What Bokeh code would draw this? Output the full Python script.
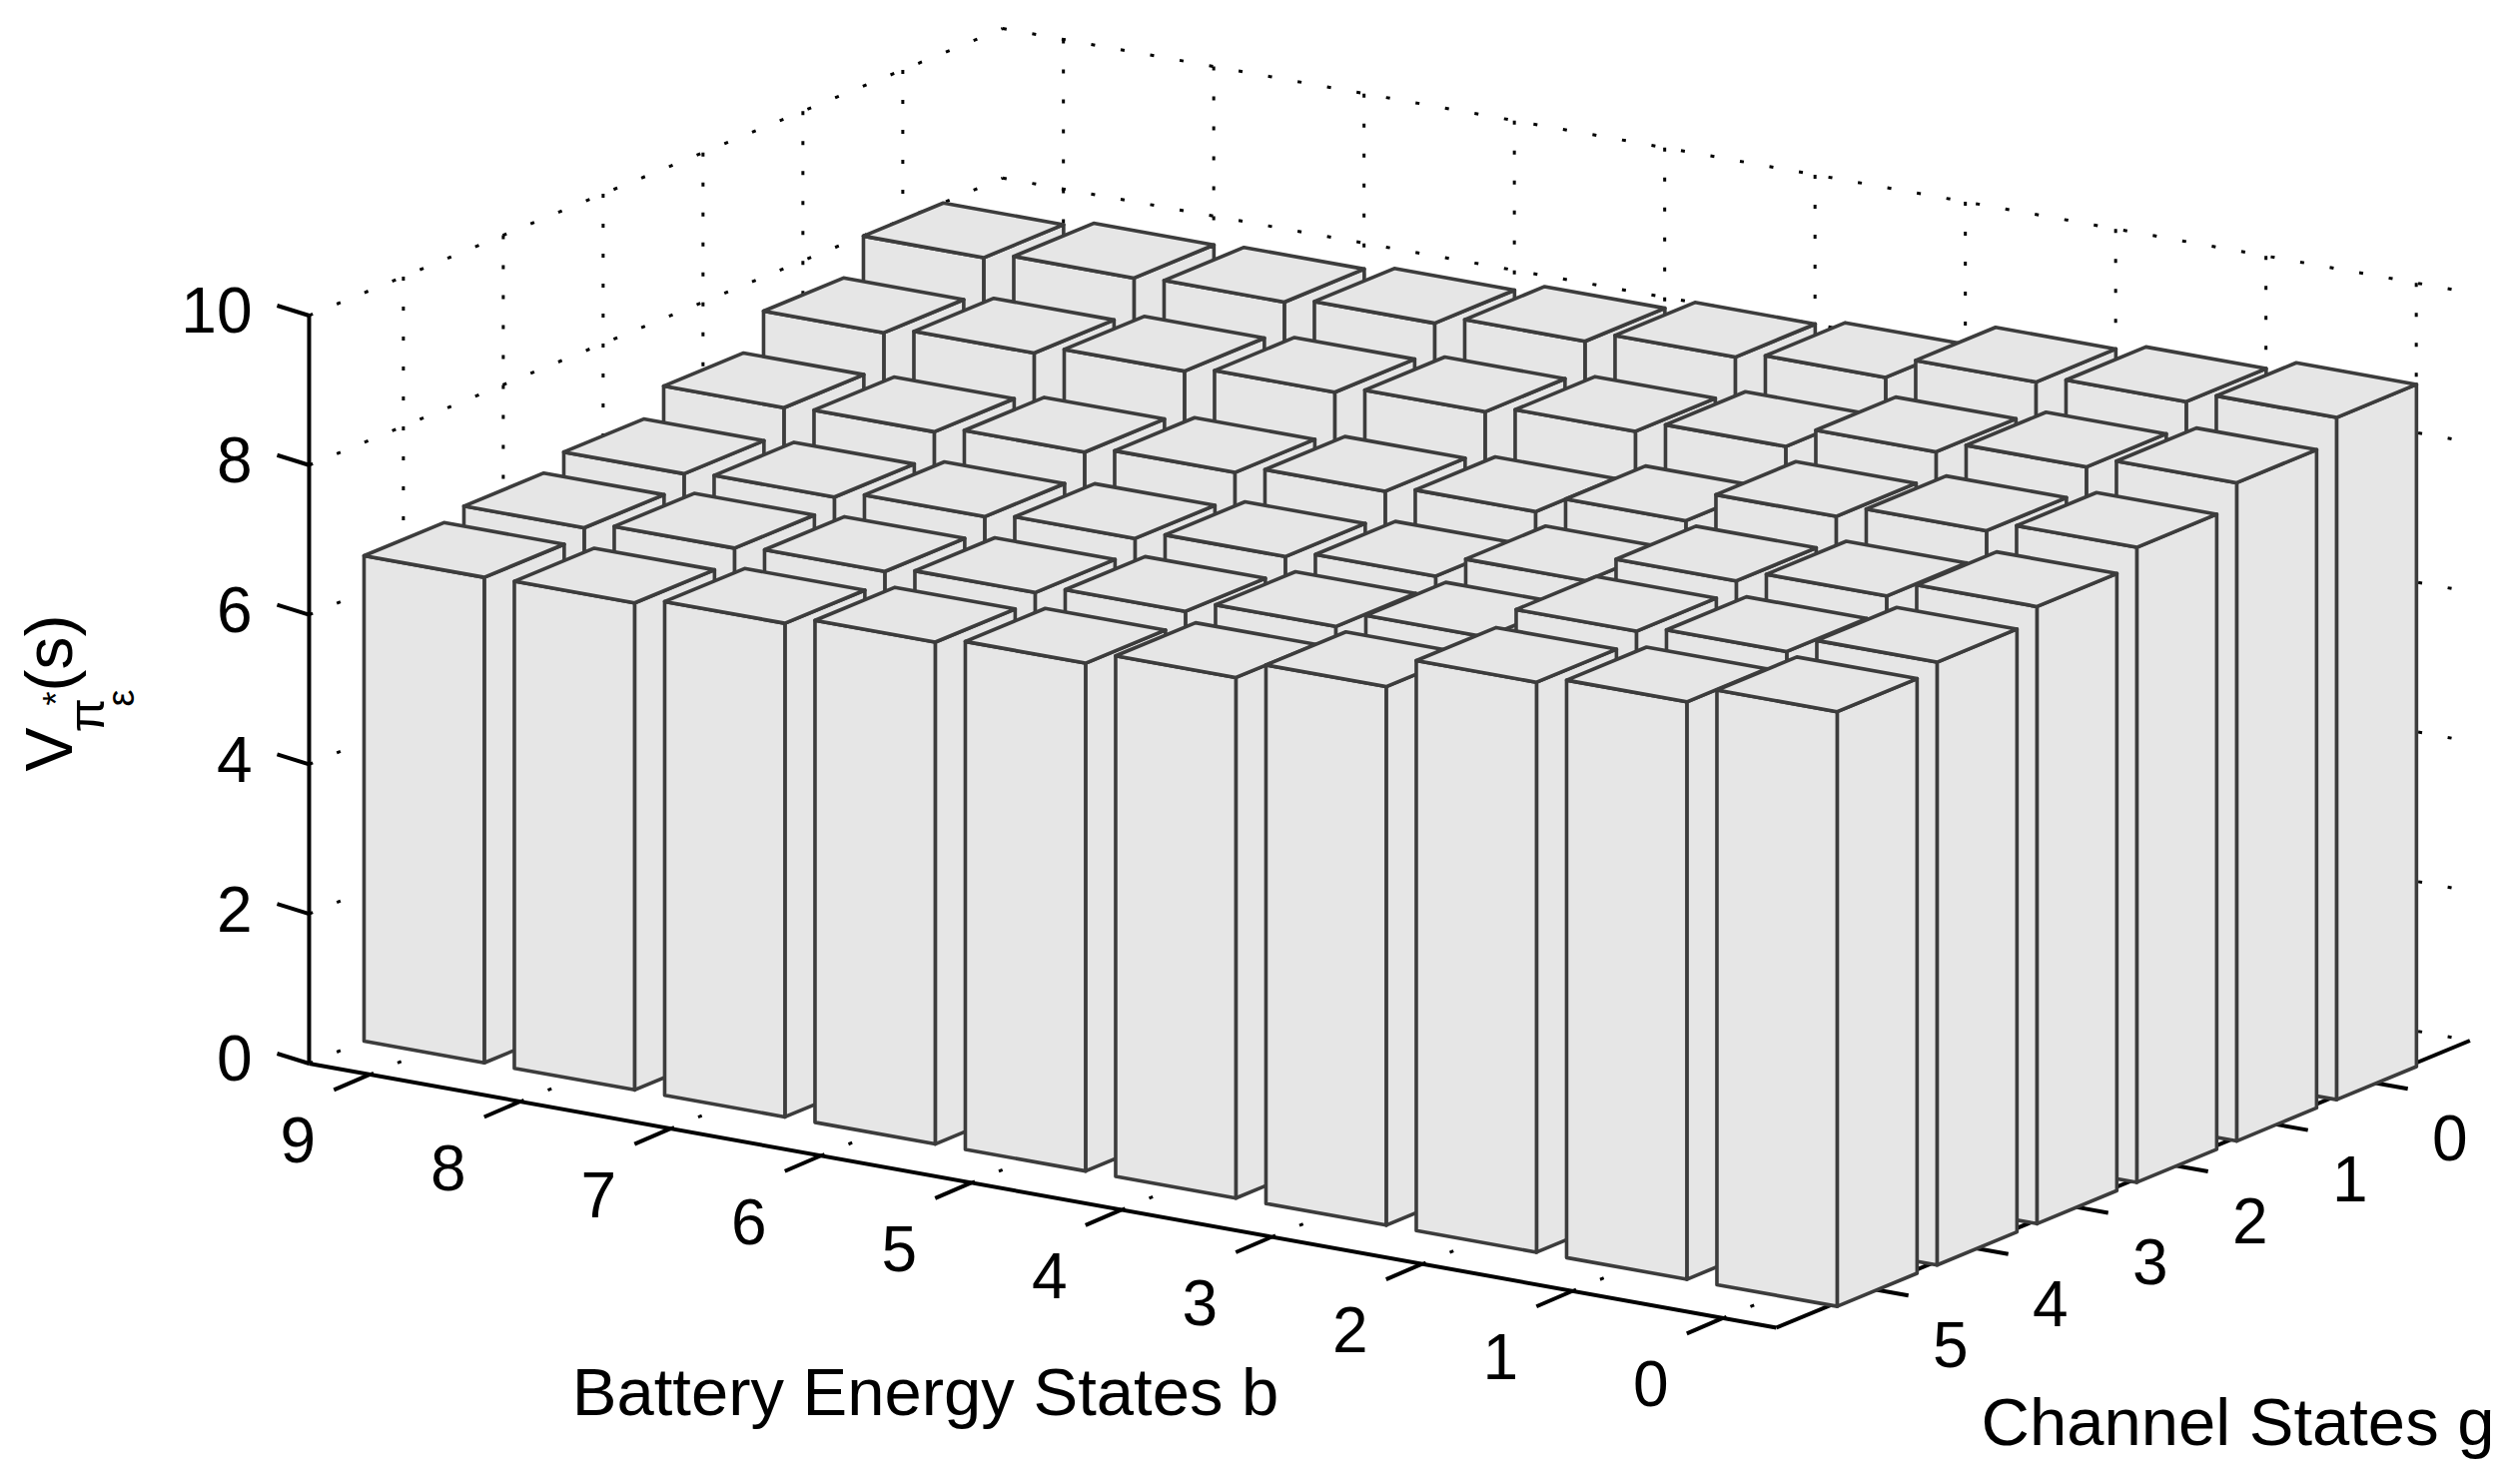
from bokeh.plotting import figure
from bokeh.embed import file_html
from bokeh.resources import INLINE
from bokeh.models import Range1d
from bokeh.core.properties import value
import math

# ---------- data ----------
battery_states = [0, 1, 2, 3, 4, 5, 6, 7, 8, 9]
channel_states = [0, 1, 2, 3, 4, 5]
z_ticks = [0, 2, 4, 6, 8, 10]
v_g0 = [9.12, 8.97, 8.87, 8.57, 8.48, 8.33, 8.21, 8.13, 8.09, 8.00]
v_g1 = [8.80, 8.65, 8.49, 8.20, 8.04, 7.94, 7.84, 7.76, 7.64, 7.55]
v_g2 = [8.49, 8.35, 8.18, 7.76, 7.52, 7.43, 7.32, 7.23, 7.14, 7.10]
v_g3 = [8.25, 8.03, 7.87, 7.51, 7.21, 7.11, 6.99, 6.92, 6.82, 6.77]
v_g4 = [8.06, 7.84, 7.75, 7.31, 7.09, 6.93, 6.82, 6.74, 6.69, 6.60]
v_g5 = [7.95, 7.72, 7.62, 7.20, 6.96, 6.79, 6.71, 6.60, 6.51, 6.49]
values = [v_g0, v_g1, v_g2, v_g3, v_g4, v_g5]

# ---------- view (orthographic projection of the MATLAB-style axes) ----------
BMIN, BMAX = -0.357, 9.404
GMIN, GMAX = -1.0, 5.944
ZMIN, ZMAX = 0, 10
HALF = 0.4
FX, FY = 1778.0, 1329.0


def proj(b, g, z):
    x = FX - 150.5 * (b - BMIN) + 100.0 * (GMAX - g)
    y = FY - 27.1 * (b - BMIN) - 41.4 * (GMAX - g) - 74.9 * z
    return x, y


def seg(p0, p1):
    a, c = proj(*p0), proj(*p1)
    return [a[0], c[0]], [a[1], c[1]]


p = figure(width=2519, height=1486, output_backend="svg", toolbar_location=None,
           x_range=Range1d(0, 2519), y_range=Range1d(1486, 0),
           min_border=0, outline_line_color=None, background_fill_color="white",
           border_fill_color="white")
p.axis.visible = False
p.grid.visible = False

# ---------- dotted grid ----------
gx, gy = [], []
for z in z_ticks:
    for a, c in [((BMAX, GMAX, z), (BMAX, GMIN, z)), ((BMAX, GMIN, z), (BMIN, GMIN, z))]:
        s = seg(a, c); gx.append(s[0]); gy.append(s[1])
for g in channel_states:
    s = seg((BMAX, g, ZMAX), (BMAX, g, ZMIN)); gx.append(s[0]); gy.append(s[1])
    s = seg((BMAX, g, ZMIN), (BMIN, g, ZMIN)); gx.append(s[0]); gy.append(s[1])
for b in battery_states:
    s = seg((b, GMIN, ZMAX), (b, GMIN, ZMIN)); gx.append(s[0]); gy.append(s[1])
    s = seg((b, GMAX, ZMIN), (b, GMIN, ZMIN)); gx.append(s[0]); gy.append(s[1])
p.multi_line(gx, gy, line_color="black", line_width=3, line_dash="4 26")

# ---------- axes and ticks ----------
ax, ay = [], []
for a, c in [((BMAX, GMAX, ZMIN), (BMAX, GMAX, ZMAX)),
             ((BMAX, GMAX, ZMIN), (BMIN, GMAX, ZMIN)),
             ((BMIN, GMAX, ZMIN), (BMIN, GMIN, ZMIN))]:
    s = seg(a, c); ax.append(s[0]); ay.append(s[1])
for z in z_ticks:
    x0, y0 = proj(BMAX, GMAX, z)
    ax.append([x0, x0 - 32]); ay.append([y0, y0 - 10])
for b in battery_states:
    x0, y0 = proj(b, GMAX, ZMIN)
    ax.append([x0, x0 - 36]); ay.append([y0, y0 + 15.5])
for g in channel_states:
    x0, y0 = proj(BMIN, g, ZMIN)
    ax.append([x0, x0 + 37.8]); ay.append([y0, y0 + 6.8])
p.multi_line(ax, ay, line_color="black", line_width=4)

# ---------- bars, back to front ----------
fx, fy = [], []
for g in channel_states:
    for b in reversed(battery_states):
        h = values[g][b]
        b0, b1, g0, g1 = b - HALF, b + HALF, g - HALF, g + HALF
        faces = [
            [(b0, g0, 0), (b0, g1, 0), (b0, g1, h), (b0, g0, h)],
            [(b1, g1, 0), (b0, g1, 0), (b0, g1, h), (b1, g1, h)],
            [(b1, g1, h), (b0, g1, h), (b0, g0, h), (b1, g0, h)],
        ]
        for f in faces:
            pts = [proj(*q) for q in f]
            fx.append([q[0] for q in pts])
            fy.append([q[1] for q in pts])
p.patches(fx, fy, fill_color="#e6e6e6", line_color="#3c3c3c", line_width=3.6, line_join="round")

# ---------- texts ----------
FONT = value("Liberation Sans")
SIZE = "64px"
tx, ty, tl = [], [], []
for z in z_ticks:
    x0, y0 = proj(BMAX, GMAX, z)
    tx.append(x0 - 57); ty.append(y0 - 5); tl.append(str(z))
p.text(tx, ty, text=tl, text_font=FONT, text_font_size=SIZE, text_align="right",
       text_baseline="middle", text_color="black")
tx, ty, tl = [], [], []
for b in battery_states:
    x0, y0 = proj(b, GMAX, ZMIN)
    tx.append(x0 - 72); ty.append(y0 + 66); tl.append(str(b))
for g in channel_states:
    x0, y0 = proj(BMIN, g, ZMIN)
    tx.append(x0 + 80); ty.append(y0 + 56); tl.append(str(g))
p.text(tx, ty, text=tl, text_font=FONT, text_font_size=SIZE, text_align="center",
       text_baseline="middle", text_color="black")

p.text([926], [1393], text=["Battery Energy States b"], text_font=FONT, text_font_size="67px",
       text_align="center", text_baseline="alphabetic", text_color="black")
p.text([2240], [1423], text=["Channel States g"], text_font=FONT, text_font_size="67px",
       text_align="center", text_baseline="alphabetic", text_color="black")

up = math.pi / 2
p.text([48], [772], text=["V"], angle=up, text_font=FONT, text_font_size="66px",
       text_align="left", text_baseline="alphabetic", text_color="black")
p.text([56], [706], text=["*"], angle=up, text_font=FONT, text_font_size="36px",
       text_align="left", text_baseline="alphabetic", text_color="black")
p.text([86], [733], text=["π"], angle=up, text_font=FONT, text_font_size="50px",
       text_align="left", text_baseline="alphabetic", text_color="black")
p.text([120], [707], text=["ε"], angle=up, text_font=FONT, text_font_size="38px",
       text_align="left", text_baseline="alphabetic", text_color="black")
p.text([48], [692], text=["(s)"], angle=up, text_font=FONT, text_font_size="66px",
       text_align="left", text_baseline="alphabetic", text_color="black")

open("out.html", "w").write(file_html(p, INLINE))
